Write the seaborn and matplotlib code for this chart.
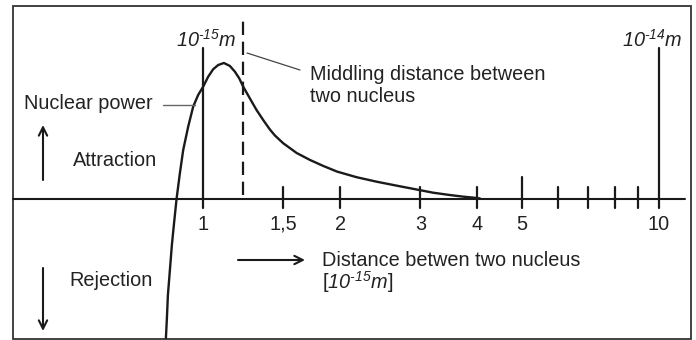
import numpy as np
import pandas as pd
import matplotlib
matplotlib.use("Agg")
import matplotlib.pyplot as plt
import matplotlib.transforms as mtransforms
from matplotlib.patches import Rectangle
import seaborn as sns

# Nuclear force versus separation of two nucleons (distance in units of 1e-15 m)
distance = [0.8297, 0.8339, 0.8381, 0.8466, 0.8551, 0.8637, 0.8755, 0.8903,
            0.9054, 0.9285, 0.9522, 0.9765, 1.0015, 1.0271, 1.0534, 1.0804,
            1.1118, 1.1460, 1.1754, 1.2010, 1.2257, 1.2675, 1.3113, 1.3558,
            1.4025, 1.4384, 1.5000, 1.6056, 1.7170, 1.8359, 1.9702, 2.1733,
            2.4040, 2.6595, 2.9274, 3.1996, 3.4803, 3.7227, 3.9154, 4.0501]
force = [-1.022, -0.875, -0.706, -0.522, -0.338, -0.191, 0.0, 0.189,
         0.360, 0.532, 0.679, 0.765, 0.826, 0.899, 0.954, 0.985,
         1.000, 0.978, 0.936, 0.888, 0.826, 0.740, 0.654, 0.581,
         0.511, 0.467, 0.410, 0.338, 0.287, 0.243, 0.201, 0.160,
         0.127, 0.098, 0.071, 0.046, 0.029, 0.017, 0.010, 0.004]

tick_values = [1, 1.5, 2, 3, 4, 5, 6, 7, 8, 9, 10]
tick_labels = {1: "1", 1.5: "1,5", 2: "2", 3: "3", 4: "4", 5: "5", 10: "10"}
middling_distance = 1.224

sns.set_theme(style="white")
plt.rcParams["font.family"] = ["Liberation Sans", "DejaVu Sans"]
# unit labels are fully italic, digits included
plt.rcParams["mathtext.fontset"] = "custom"
plt.rcParams["mathtext.rm"] = "Liberation Sans:italic"
plt.rcParams["mathtext.it"] = "Liberation Sans:italic"

INK = "#1a1a1a"
TXT = "#222222"
FS = 14.3

fig = plt.figure(figsize=(6.96, 3.40), dpi=100)
ax = fig.add_axes([0, 0, 1, 1])
ax.set_xscale("log")
ax.set_xlim(0.359, 12.06)
ax.set_ylim(-1.037, 1.463)
ax.axis("off")

# pixel-style coordinates (origin top-left) for annotations and the frame
px = mtransforms.Affine2D().scale(1 / 696, -1 / 340).translate(0, 1) + ax.transAxes

df = pd.DataFrame({"distance": distance, "force": force})
sns.lineplot(data=df, x="distance", y="force", sort=False, estimator=None,
             color=INK, lw=1.7, ax=ax)
ax.lines[-1].set_solid_joinstyle("round")

# horizontal distance axis
ax.plot([12.5, 685], [199, 199], color=INK, lw=1.5, transform=px)

# ticks crossing the axis
for v in tick_values:
    if v in (1, 10):
        top = 1.11
    elif v == 5:
        top = 0.162
    else:
        top = 0.088
    ax.plot([v, v], [-0.066, top], color=INK, lw=1.6)
    if v in tick_labels:
        ax.text(v, -0.228, tick_labels[v], ha="center", va="baseline",
                fontsize=FS, color=TXT)

# dashed marker of the middling distance
ax.plot([middling_distance, middling_distance], [0.029, 1.309], color=INK,
        lw=1.6, linestyle=(0, (6, 3)))

UNIT15 = "$10^{\u201015}m$"
UNIT14 = "$10^{\u201014}m$"
ax.text(1.015, 1.118, UNIT15, ha="center", va="baseline", fontsize=FS, color=TXT)
ax.text(11.29, 1.118, UNIT14, ha="right", va="baseline", fontsize=FS, color=TXT)

ax.text(310, 80, "Middling distance between", transform=px, fontsize=FS,
        color=TXT, ha="left", va="baseline")
ax.text(310, 102, "two nucleus", transform=px, fontsize=FS, color=TXT,
        ha="left", va="baseline")
ax.plot([247, 300], [53, 70], color="#444444", lw=0.9, transform=px)

ax.text(24, 109, "Nuclear power", transform=px, fontsize=FS, color=TXT,
        ha="left", va="baseline")
ax.plot([163, 195], [105, 105], color="#666666", lw=1.0, transform=px)

ax.text(73, 166, "Attraction", transform=px, fontsize=FS, color=TXT,
        ha="left", va="baseline")
ax.text(69, 286, "Rejection", transform=px, fontsize=FS, color=TXT,
        ha="left", va="baseline")

arrow = dict(arrowstyle="->,head_length=0.5,head_width=0.25", color=INK, lw=1.5,
             shrinkA=0, shrinkB=0)
ax.annotate("", xy=(43, 125), xytext=(43, 180), xycoords=px, textcoords=px,
            arrowprops=arrow)
ax.annotate("", xy=(43, 331), xytext=(43, 268), xycoords=px, textcoords=px,
            arrowprops=arrow)
ax.annotate("", xy=(305, 260), xytext=(238, 260), xycoords=px, textcoords=px,
            arrowprops=arrow)

ax.text(322, 266, "Distance betwen two nucleus", transform=px, fontsize=FS,
        color=TXT, ha="left", va="baseline")
ax.text(322, 289, "[" + UNIT15 + "]", transform=px, fontsize=FS,
        color=TXT, ha="left", va="baseline")

# outer frame
ax.add_patch(Rectangle((12.5, 6), 678.5, 332.5, transform=px, fill=False,
                       edgecolor="#333333", lw=1.3, clip_on=False))

fig.savefig("out.png", dpi=100)
